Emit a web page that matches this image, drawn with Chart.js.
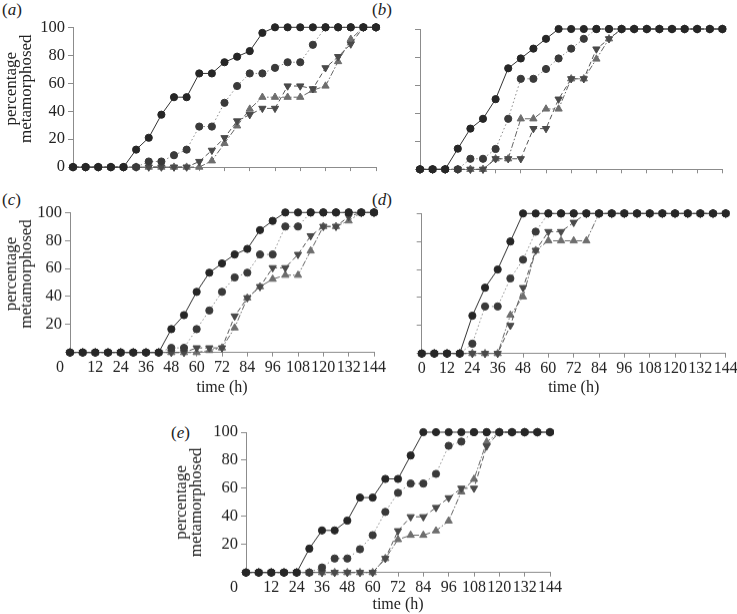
<!DOCTYPE html>
<html><head><meta charset="utf-8">
<script src="https://cdn.jsdelivr.net/npm/chart.js@4.4.1/dist/chart.umd.min.js"></script>
<style>
html,body{margin:0;padding:0;background:#fff;overflow:hidden;width:737px;height:614px;position:relative;}
canvas.p{position:absolute;}
.lab{position:absolute;font-family:"Liberation Serif",serif;font-size:17px;color:#222;line-height:20px;}
</style></head><body>
<div class="lab" style="left:2px;top:0px">(<i>a</i>)</div>
<div class="lab" style="left:372px;top:0px">(<i>b</i>)</div>
<div class="lab" style="left:2px;top:190px">(<i>c</i>)</div>
<div class="lab" style="left:372px;top:190px">(<i>d</i>)</div>
<div class="lab" style="left:171px;top:423px">(<i>e</i>)</div>
<canvas id="ca" class="p"></canvas>
<canvas id="cb" class="p"></canvas>
<canvas id="cc" class="p"></canvas>
<canvas id="cd" class="p"></canvas>
<canvas id="ce" class="p"></canvas>
<script>
// time points (h)
const times = [0,6,12,18,24,30,36,42,48,54,60,66,72,78,84,90,96,102,108,114,120,126,132,138,144];
const xTickStep = 12;
const yTickStep = 20;
const yTitleLines = ['percentage','metamorphosed'];
const xTitleText = 'time (h)';

// panel (a)
const aSolid = [0,0,0,0,0,12.5,21,37.5,50,50,67,67,75,79,83,96,100,100,100,100,100,100,100,100,100];
const aDot   = [0,0,0,0,0,0,4,4,8.5,12.5,29,29,46,58,67,67,71,75,75,87.5,100,100,100,100,100];
const aDown  = [0,0,0,0,0,0,0,0,0,0,4,12,21,33,37.5,42,42,58,58,56,71,79,88,100,100];
const aUp    = [0,0,0,0,0,0,0,0,0,0,0,4.5,17,29.5,41.5,50,50,50,50,55,58,75.5,91.5,100,100];
// panel (b)
const bSolid = [0,0,0,14.7,29,36,50,72,79,86,93,100,100,100,100,100,100,100,100,100,100,100,100,100,100];
const bDot   = [0,0,0,0,7.5,7.5,14.5,36,64.5,64.5,71.5,79,86,93,100,100,100,100,100,100,100,100,100,100,100];
const bDown  = [0,0,0,0,0,0,7.5,7.5,7.5,29,29,50,64.5,64.5,85.7,93,100,100,100,100,100,100,100,100,100];
const bUp    = [0,0,0,0,0,0,7.5,7.5,36,36,43,43,64.5,64.5,78.6,93,100,100,100,100,100,100,100,100,100];
// panel (c)
const cSolid = [0,0,0,0,0,0,0,0,16.7,26.7,43.3,57,63.6,70,74,87.4,94,100,100,100,100,100,100,100,100];
const cDot   = [0,0,0,0,0,0,0,0,3.3,3.3,16.7,30,43.3,53.6,57,70,70,90,90,100,100,100,100,100,100];
const cDown  = [0,0,0,0,0,0,0,0,0,0,3.3,3.3,3.3,26,39,47,60.5,60.5,70,83.3,90,90,97,100,100];
const cUp    = [0,0,0,0,0,0,0,0,0,0,0,1.5,3.3,17.6,39,47,52.4,55.2,55.2,72.6,90,90,94,100,100];
// panel (d)
const dSolid = [0,0,0,0,27,47,60,80,100,100,100,100,100,100,100,100,100,100,100,100,100,100,100,100,100];
const dDot   = [0,0,0,0,7,33.6,33.6,53.6,67,87,100,100,100,100,100,100,100,100,100,100,100,100,100,100,100];
const dDown  = [0,0,0,0,0,0,0,20,47,73.6,87,87,93.6,100,100,100,100,100,100,100,100,100,100,100,100];
const dUp    = [0,0,0,0,0,0,0,27.4,40.5,73.6,80.5,80.5,80.5,80.5,100,100,100,100,100,100,100,100,100,100,100];
// panel (e)
const eSolid = [0,0,0,0,0,17,30,30,37,53.4,53.4,66.7,66.7,83.4,100,100,100,100,100,100,100,100,100,100,100];
const eDot   = [0,0,0,0,0,0,3.6,10,10,16.6,26.6,43.2,56.8,63.4,63.4,70.3,90.3,93.3,100,100,100,100,100,100,100];
const eDown  = [0,0,0,0,0,0,0,0,0,0,0,10,29.7,39.7,39.7,46.3,53.2,60,60,90,100,100,100,100,100];
const eUp    = [0,0,0,0,0,0,0,0,0,0,0,10,23.5,26.6,26.6,29.7,36.8,57.5,66.5,93,100,100,100,100,100];

const FONT = '"Liberation Serif", "Times New Roman", serif';
const AX = '#8c8c8c';
const TXT = '#222';

const styles = [
  {borderColor:'#333', borderWidth:1, pointStyle:'circle', pointRadius:3.6, pointBackgroundColor:'#262626', pointBorderColor:'#262626'},
  {borderColor:'#8a8a8a', borderWidth:1, borderDash:[1.5,2.5], pointStyle:'circle', pointRadius:3.6, pointBackgroundColor:'#3a3a3a', pointBorderColor:'#3a3a3a'},
  {borderColor:'#555', borderWidth:1, borderDash:[5,3], pointStyle:'triangle', pointRotation:180, pointRadius:4.2, pointBackgroundColor:'#4a4a4a', pointBorderColor:'#4a4a4a'},
  {borderColor:'#666', borderWidth:1, borderDash:[6,2,1.5,2], pointStyle:'triangle', pointRadius:4.2, pointBackgroundColor:'#6e6e6e', pointBorderColor:'#6e6e6e'}
];

function makePanel(id, cfg) {
  const cv = document.getElementById(id);
  cv.width = cfg.W; cv.height = cfg.H;
  cv.style.left = cfg.L + 'px'; cv.style.top = cfg.T + 'px';
  cv.style.width = cfg.W + 'px'; cv.style.height = cfg.H + 'px';
  const datasets = cfg.series.map((vals, k) => Object.assign({
    data: times.map((t, i) => ({x: t, y: vals[i]})),
    fill: false, tension: 0, clip: false, pointBorderWidth: 1
  }, styles[k]));
  new Chart(cv, {
    type: 'line',
    data: {datasets},
    options: {
      responsive: false, animation: false, events: [],
      layout: {padding: {top: cfg.padTop, right: cfg.padRight, left: 0, bottom: 0}},
      plugins: {legend: {display: false}, tooltip: {enabled: false}},
      scales: {
        x: {
          type: 'linear', min: 0, max: 144,
          ticks: {
            stepSize: xTickStep, autoSkip: false, maxRotation: 0, minRotation: 0,
            display: cfg.xLabels !== 'none', padding: 1,
            font: {family: FONT, size: 16}, color: TXT,
            callback: v => (v === 0 && cfg.zeroShift) ? '0' + ' '.repeat(cfg.zeroShift) : String(v)
          },
          grid: {drawOnChartArea: false, drawTicks: true, tickLength: 4, color: AX},
          border: {color: AX, width: 1},
          title: {display: !!cfg.xTitle, text: xTitleText, font: {family: FONT, size: 16, lineHeight: 1.2}, color: TXT, padding: 0},
          afterFit: s => { s.height = cfg.xh; }
        },
        y: {
          min: 0, max: 100,
          ticks: {
            stepSize: yTickStep, display: cfg.yLabels !== 'none', padding: 3,
            font: {family: FONT, size: 16.5}, color: TXT,
            callback: v => (cfg.yLabels === 'no0' && v === 0) ? '' : String(v)
          },
          grid: {drawOnChartArea: false, drawTicks: true, tickLength: 5, color: AX},
          border: {color: AX, width: 1},
          title: {display: !!cfg.yTitle,
                  text: cfg.yTitleUp ? yTitleLines.map(s => '    ' + s) : yTitleLines,
                  font: {family: FONT, size: 17, lineHeight: 0.9}, color: TXT, padding: {top: 4, bottom: 0}},
          afterFit: s => { s.width = cfg.yw; }
        }
      }
    }
  });
}

makePanel('ca', {L:0, T:0, W:392, H:180, yw:73, xh:12.7, padTop:27.3, padRight:16, yLabels:'all', yTitle:true, yTitleUp:true, xLabels:'none', series:[aSolid,aDot,aDown,aUp]});
makePanel('cb', {L:384, T:0, W:353, H:182, yw:36, xh:12.7, padTop:29, padRight:14.6, yLabels:'none', xLabels:'none', series:[bSolid,bDot,bDown,bUp]});
makePanel('cc', {L:0, T:185, W:390, H:211.6, yw:70, xh:44.3, padTop:27.3, padRight:16, yLabels:'no0', yTitle:true, yTitleUp:true, xLabels:'all', zeroShift:5, xTitle:true, series:[cSolid,cDot,cDown,cUp]});
makePanel('cd', {L:384, T:185, W:360, H:211.6, yw:37.7, xh:43.3, padTop:28.3, padRight:18.3, yLabels:'none', xLabels:'all', xTitle:true, series:[dSolid,dDot,dDown,dUp]});
makePanel('ce', {L:170, T:400, W:396, H:213.6, yw:76, xh:41.3, padTop:32, padRight:16, yLabels:'no0', yTitle:true, xLabels:'all', zeroShift:6, xTitle:true, series:[eSolid,eDot,eDown,eUp]});
</script>
</body></html>
